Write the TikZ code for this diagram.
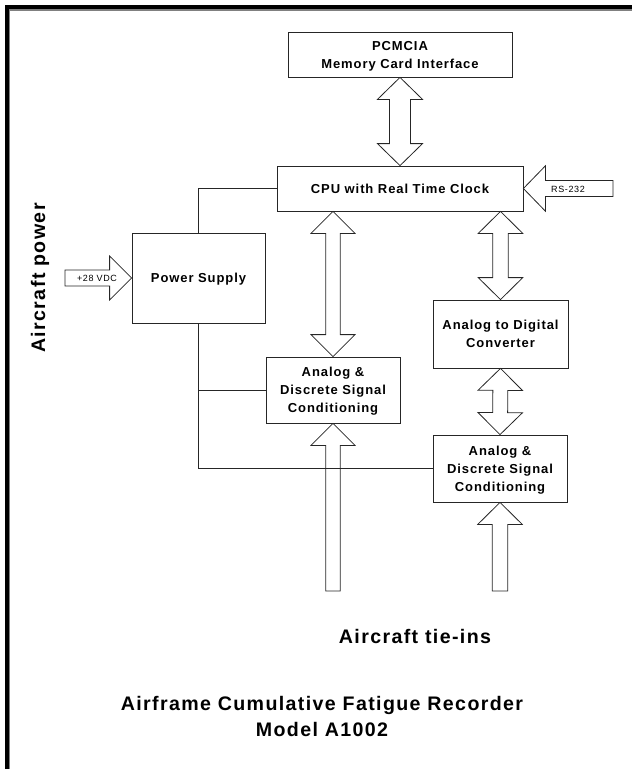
\documentclass[tikz,border=0pt]{standalone}
\usepackage{fontspec}
\setmainfont{Liberation Sans}
\newfontfamily\lblfont[LetterSpace=7]{Liberation Sans}
\usepackage{tikz}
\usetikzlibrary{calc,positioning}
\newcommand{\headlen}{16.5pt}
\newcommand{\fatarrow}[4]{%
  \draw[blk] (#2) -- ($(#2)!\headlen!(#1)!#4!90:(#2)$)
    -- ($(#2)!\headlen!(#1)!#3!90:(#2)$) -- ($(#1)!#3!90:(#2)$)
    -- ($(#1)!#3!-90:(#2)$) -- ($(#2)!\headlen!(#1)!#3!-90:(#2)$)
    -- ($(#2)!\headlen!(#1)!#4!-90:(#2)$) -- cycle;}
\newcommand{\fatdbl}[4]{%
  \draw[blk] (#1) -- ($(#1)!\headlen!(#2)!#4!90:(#2)$)
    -- ($(#1)!\headlen!(#2)!#3!90:(#2)$) -- ($(#2)!\headlen!(#1)!#3!-90:(#1)$)
    -- ($(#2)!\headlen!(#1)!#4!-90:(#1)$) -- (#2)
    -- ($(#2)!\headlen!(#1)!#4!90:(#1)$) -- ($(#2)!\headlen!(#1)!#3!90:(#1)$)
    -- ($(#1)!\headlen!(#2)!#3!-90:(#2)$) -- ($(#1)!\headlen!(#2)!#4!-90:(#2)$) -- cycle;}

\begin{document}
\begin{tikzpicture}[x=0.75pt, y=-0.75pt,
    blk/.style={draw=black!85, line width=0.6pt, line join=miter},
    wire/.style={draw=black!85, line width=0.6pt},
    unit/.style={rectangle, draw=black!85, line width=0.6pt, align=center,
        inner sep=0pt, text depth=0pt,
        font=\lblfont\bfseries\fontsize{9.75}{13.5}\selectfont},
    tag/.style={inner sep=0pt, font=\lblfont\fontsize{6.75}{8}\selectfont},
    caption/.style={inner sep=0pt, align=center,
        font=\lblfont\bfseries\fontsize{14.7}{19.5}\selectfont}
]
    \useasboundingbox (0,0) rectangle (632,769);
    \draw[line width=2.8pt, line join=miter] (6.8,769) -- (6.8,7) -- (632,7);
    \draw[gray, line width=0.8pt, line join=miter] (9.6,769) -- (9.6,10) -- (632,10);

    \node[unit, minimum width=168pt, minimum height=33.75pt] (pcmcia) at (400,54.5) {PCMCIA\\Memory Card Interface};
    \node[unit, minimum width=184.5pt, minimum height=33.75pt] (cpu) at (400,188.5) {CPU with Real Time Clock};
    \node[unit, minimum width=99.75pt, minimum height=67.5pt] (ps) at (198.5,278) {Power Supply};
    \node[unit, minimum width=101.25pt, minimum height=51pt] (adc) at (500.5,334) {Analog to Digital\\Converter};
    \node[unit, minimum width=100.5pt, minimum height=49.5pt] (ana1) at (333,390) {Analog \&\\Discrete Signal\\Conditioning};
    \node[unit, minimum width=100.5pt, minimum height=50.25pt] (ana2) at (500,468.5) {Analog \&\\Discrete Signal\\Conditioning};

    \coordinate (c1) at (cpu.south -| ana1.north);
    \coordinate (c2) at (cpu.south -| adc.north);
    \coordinate (vdcin) at (65,278);
    \coordinate (rsin) at (613,188.5);
    \coordinate (tie1) at (333,591);
    \coordinate (tie2) at (500,591);

    \fatdbl{pcmcia.south}{cpu.north}{7.9pt}{16.9pt}
    \fatdbl{c1}{ana1.north}{5.5pt}{16.5pt}
    \fatdbl{c2}{adc.north}{5.8pt}{16.7pt}
    \fatdbl{adc.south}{ana2.north}{5.6pt}{16.7pt}
    \fatarrow{tie1}{ana1.south}{5.5pt}{16.5pt}
    \fatarrow{tie2}{ana2.south}{5.8pt}{16.7pt}
    \fatarrow{vdcin}{ps.west}{6pt}{16.5pt}
    \fatarrow{rsin}{cpu.east}{6pt}{17pt}

    \node[tag] (vdc) at (97,278.5) {+28 VDC};
    \node[tag] (rs) at (568,189) {RS-232};

    \draw[wire] (cpu.west) -| (ps.north);
    \draw[wire] (ps.south) |- (ana2.west);
    \draw[wire] (ps.south |- ana1.west) -- (ana1.west);

    \node[caption, rotate=90] (power) at (40,278) {Aircraft power};
    \node[caption] (ties) at (415,636) {Aircraft tie-ins};
    \node[caption, text depth=0pt] (title) at (322,716) {Airframe Cumulative Fatigue Recorder\\Model A1002};
\end{tikzpicture}
\end{document}
